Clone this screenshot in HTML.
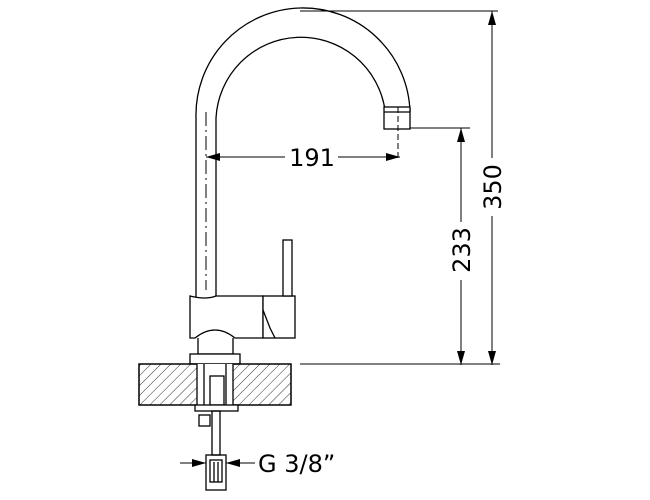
<!DOCTYPE html>
<html><head><style>body{margin:0;background:#fff}svg{display:block}text{font-family:"DejaVu Sans","Liberation Sans",sans-serif;font-size:24px;fill:#000}</style></head>
<body>
<svg width="650" height="500" viewBox="0 0 650 500" xmlns="http://www.w3.org/2000/svg">
<defs>
<pattern id="h" width="7" height="7" patternUnits="userSpaceOnUse" patternTransform="rotate(45)">
<line x1="0" y1="0" x2="0" y2="7" stroke="#000" stroke-width="0.8"/>
</pattern>
<marker id="a" markerWidth="14" markerHeight="8" refX="14" refY="4" orient="auto" markerUnits="userSpaceOnUse"><path d="M0,0 L14,4 L0,8z" fill="#000"/></marker>
</defs>
<g fill="none" stroke="#000" stroke-width="1.3">
<!-- spout -->
<path d="M196,298 L196,118 A107,107 0 0 1 410,112 L410,108"/>
<path d="M216,298 L216,118 A85,85 0 0 1 385,110"/>
<rect x="384" y="107" width="26" height="22" fill="#fff"/>
<line x1="384" y1="112" x2="410" y2="112"/>
<line x1="206" y1="112" x2="206" y2="290" stroke-dasharray="14,4,2,4" stroke-width="1"/>
<line x1="398" y1="107" x2="398" y2="160" stroke-dasharray="6,3" stroke-width="1"/>
<!-- body -->
<path d="M190,296 Q206,300 216,296 L263,296 L263,338 L235,338 Q215,322 195,338 L190,338 Z" fill="#fff"/>
<rect x="263" y="296" width="32" height="42" fill="#fff"/>
<path d="M263,310 L270,328 L275,338"/>
<rect x="283" y="240" width="9" height="56" fill="#fff"/>
<path d="M198,338 L198,354 L233,354 L233,338"/>
<rect x="190" y="354" width="50" height="10" fill="#fff"/>
<!-- counter -->
<rect x="139" y="364" width="152" height="41" fill="url(#h)"/>
<rect x="197" y="364" width="36" height="41" fill="#fff" stroke="none"/>
<path d="M139,364 L197,364 L197,405 L139,405 Z M233,364 L291,364 L291,405 L233,405 Z"/>
<line x1="204" y1="364" x2="204" y2="405"/>
<line x1="226" y1="364" x2="226" y2="405"/>
<rect x="210" y="376" width="14" height="29"/>
<rect x="195" y="405" width="43" height="6" fill="#fff"/>
<rect x="212" y="411" width="8" height="44"/>
<rect x="199" y="415" width="11" height="11"/>
<rect x="206" y="455" width="20" height="35"/>
<rect x="210" y="460" width="12" height="22"/>
<line x1="214" y1="462" x2="214" y2="482"/><line x1="218" y1="462" x2="218" y2="482"/>
</g>
<g stroke="#000" stroke-width="1">
<!-- 191 -->
<line x1="285" y1="157" x2="206" y2="157" marker-end="url(#a)"/>
<line x1="338" y1="157" x2="400" y2="157" marker-end="url(#a)"/>
<!-- extension lines -->
<line x1="300" y1="11" x2="498" y2="11"/>
<line x1="410" y1="128" x2="470" y2="128"/>
<line x1="300" y1="364" x2="500" y2="364"/>
<!-- 233 -->
<line x1="461" y1="222" x2="461" y2="128" marker-end="url(#a)"/>
<line x1="461" y1="280" x2="461" y2="365" marker-end="url(#a)"/>
<!-- 350 -->
<line x1="492" y1="158" x2="492" y2="11" marker-end="url(#a)"/>
<line x1="492" y1="216" x2="492" y2="365" marker-end="url(#a)"/>
<!-- G 3/8 -->
<line x1="180" y1="463" x2="206" y2="463" marker-end="url(#a)"/>
<line x1="255" y1="463" x2="226" y2="463" marker-end="url(#a)"/>
<line x1="206" y1="455" x2="206" y2="470"/><line x1="226" y1="455" x2="226" y2="470"/>
</g>
<text x="312" y="166" text-anchor="middle">191</text>
<text transform="translate(470,250) rotate(-90)" text-anchor="middle">233</text>
<text transform="translate(501,187) rotate(-90)" text-anchor="middle">350</text>
<text x="258" y="472">G 3/8”</text>
</svg>
</body></html>
